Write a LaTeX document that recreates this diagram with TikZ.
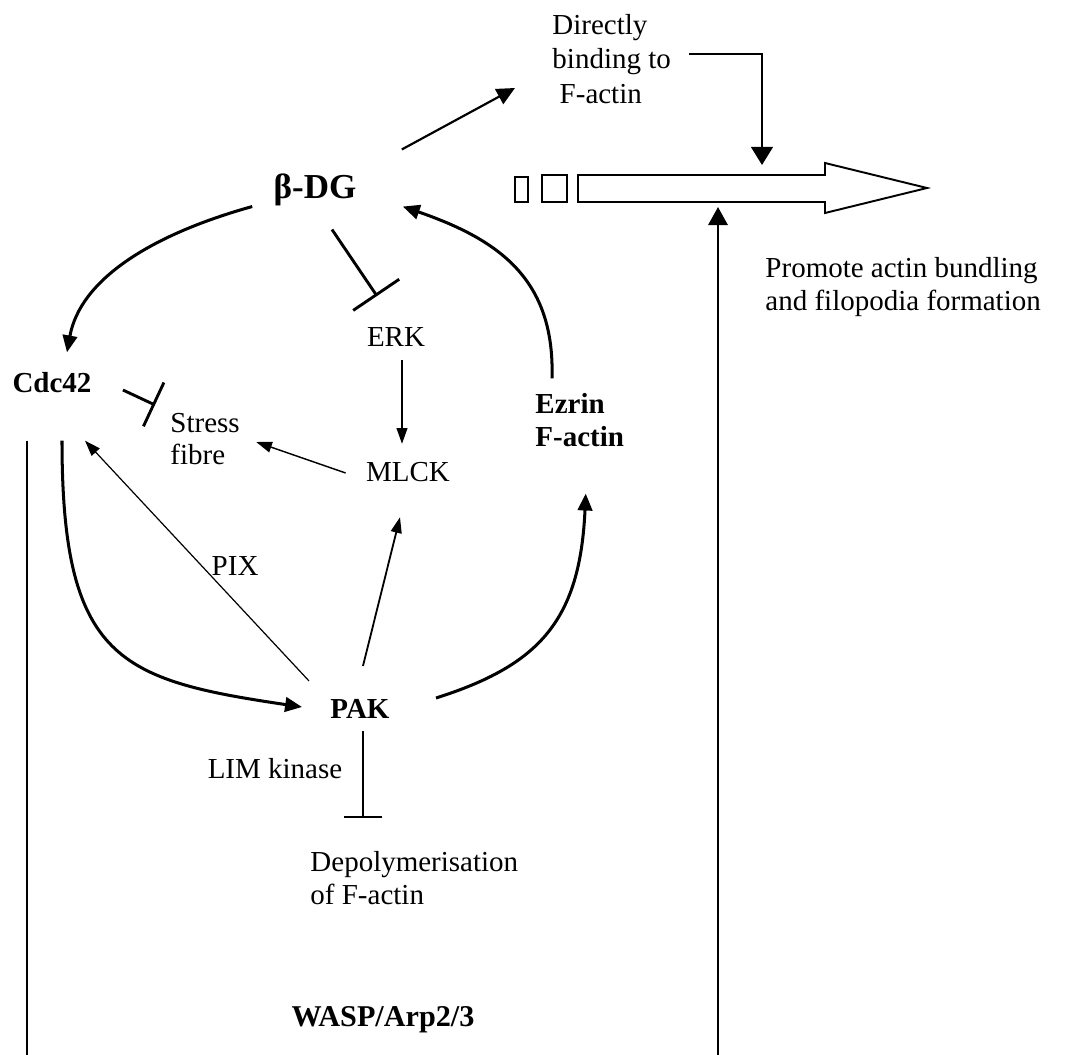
\documentclass[tikz,border=0pt]{standalone}
\usepackage{fontspec}
\setmainfont{Liberation Serif}
\usepackage{tikz}
\usetikzlibrary{positioning,arrows.meta}

\tikzset{
    gene/.style={inner sep=0pt, font=\fontsize{12}{14}\selectfont},
    keygene/.style={inner sep=0pt, font=\fontsize{12}{14}\selectfont\bfseries},
    note/.style={inner sep=0pt, align=left, font=\fontsize{12}{13.6}\selectfont},
    act/.style={-{Triangle[length=7pt, width=6pt]}, line width=1.25pt},
    thinact/.style={-{Triangle[length=6.5pt, width=4.5pt]}, line width=0.6pt},
    inhib/.style={-{Bar[width=#1]}, line width=1.2pt},
    link/.style={line width=1pt}
}

\begin{document}
\begin{tikzpicture}[x=0.414pt, y=-0.414pt]
\useasboundingbox (0,0) rectangle (1075,1055);

% Signalling nodes
\node[keygene, font=\fontsize{14.5}{16}\selectfont\bfseries] at (315,190) (dg) {β-DG};
\node[keygene] at (52,383) (cdc) {Cdc42};
\node[gene] at (396,337) (erk) {ERK};
\node[gene] at (408,472) (mlck) {MLCK};
\node[note, anchor=west] at (170,439) (stress) {Stress\\fibre};
\node[keygene, align=left, anchor=west] at (535,420) (ezrin) {Ezrin\\F-actin};
\node[keygene] at (360,709) (pak) {PAK};
\node[gene] at (275,769) (lim) {LIM kinase};
\node[note, anchor=west] at (310,878) (depol) {Depolymerisation\\of F-actin};
\node[keygene, font=\fontsize{12.5}{14}\selectfont\bfseries] at (383,1020) (wasp) {WASP/Arp2/3};

% Outcome notes
\node[note, anchor=west, font=\fontsize{12}{14.2}\selectfont] at (552,59) (bind) {Directly\\binding to\\\hspace{3pt}F-actin};
\node[note, anchor=west] at (765,287) (promote) {Promote actin bundling\\and filopodia formation};

% Actin bundle arrow
\draw[line width=0.8pt] (515,177) rectangle (528,202);
\draw[line width=0.8pt] (542,175) rectangle (567,202);
\draw[line width=0.8pt] (578,175) -- (825,175) -- (825,163) -- (927,188)
    -- (825,213) -- (825,202) -- (578,202) -- cycle;
\coordinate (bundletop) at (762,165);
\coordinate (bundlebot) at (718,207);
\coordinate (edgeR) at (718,1055);
\coordinate (edgeL) at (27,1055);

% Loop round beta-DG
\draw[act] ([shift={(-21,0)}]dg.south west) .. controls (150,235) and (80,280) .. ([shift={(15,-20)}]cdc.north);
\draw[act] ([shift={(17,-14)}]ezrin.north west) .. controls (555,280) and (500,240) .. ([shift={(46,0)}]dg.south east);
\draw[inhib=23pt] ([shift={(17,23)}]dg.south) -- ([shift={(-19,-31)}]erk.north);
\draw[-{Triangle[length=7.5pt, width=7pt]}, line width=0.9pt] ([shift={(45,-24)}]dg.north east) -- ([shift={(-37,29)}]bind.west);
\draw[-{Triangle[length=7.5pt, width=9pt]}, line width=1pt] ([shift={(18,-5)}]bind.east) -| (bundletop);
\draw[-{Triangle[length=7.5pt, width=8pt]}, line width=1pt] (edgeR) -- (bundlebot);

% Cdc42 and PAK
\draw[inhib=20pt] ([shift={(31,7)}]cdc.east) -- ([shift={(-15,-34)}]stress.west);
\draw[link] ([shift={(-25,47)}]cdc.south) -- (edgeL);
\draw[act] ([shift={(10,47)}]cdc.south) .. controls (62,660) and (120,680) .. ([shift={(-28,-2)}]pak.west);
\draw[thinact, line width=0.5pt] ([shift={(-21,-18)}]pak.north west) -- node[pos=0.48, anchor=west, gene, inner sep=4pt] (pix) {PIX} ([shift={(33,47)}]cdc.south);
\draw[thinact, line width=0.5pt] ([shift={(6,13)}]erk.south) -- ([shift={(-6,-18)}]mlck.north);
\draw[thinact] ([shift={(-20,1)}]mlck.west) -- ([shift={(16,3)}]stress.east);
\draw[thinact, line width=0.75pt] ([shift={(3,-33)}]pak.north) -- ([shift={(-8,35)}]mlck.south);
\draw[act] ([shift={(46,-11)}]pak.east) .. controls (540,665) and (580,620) .. ([shift={(6,46)}]ezrin.south);
\draw[inhib=16pt, line width=0.9pt] ([shift={(3,12)}]pak.south) -- ([shift={(363-310,-33)}]depol.north west);

\end{tikzpicture}
\end{document}
